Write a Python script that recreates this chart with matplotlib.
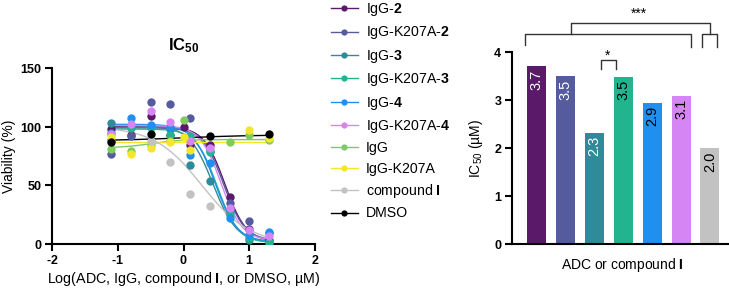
import matplotlib
matplotlib.use("Agg")
import matplotlib.pyplot as plt
from matplotlib.lines import Line2D
import numpy as np

plt.rcParams['font.family'] = ['Liberation Sans', 'DejaVu Sans']
plt.rcParams['mathtext.fontset'] = 'custom'
plt.rcParams['mathtext.rm'] = 'Liberation Sans'
plt.rcParams['mathtext.bf'] = 'Liberation Sans:bold'
plt.rcParams['mathtext.it'] = 'Liberation Sans:italic'

# ---- dose-response data (log µM vs viability %) ----
x_conc = [-1.1, -0.8, -0.5, -0.2, 0.0, 0.1, 0.4, 0.7, 1.0, 1.3]
nan = np.nan
via_igg2 = [98, 93, 109, 93, 100, 84, 84, 40, 13, 3]
via_k207a2 = [77, 92, 121, 119, nan, 107, 79, 35, 20, 9]
via_igg3 = [103, 100, 100, 98, nan, 67, 54, 27, 3, 1]
via_k207a3 = [89, 99, 100, 93, nan, 92, 78, 25, 5, 2]
via_igg4 = [95, 107, 101, 100, nan, 76, 69, 22, 8, 10]
via_k207a4 = [94, 102, 113, 104, nan, 88, 82, 31, 12, 7]
via_igg = [81, 79, 84, 88, 106, nan, nan, 87, 93, 89]
via_k207a = [91, 77, 82, 87, 91, 80, nan, nan, 97, 90]
via_cpd = [nan, nan, 88, 70, nan, 43, 32, nan, nan, nan]
via_dmso = [87, nan, 94, nan, nan, nan, 92, nan, nan, 94]

# fitted curve parameters: top, bottom, logIC50, hill
fit_igg2 = [100, 2, 0.63, 2.7]
fit_k207a2 = [99, 3, 0.61, 2.7]
fit_igg3 = [101, 1, 0.45, 2.4]
fit_k207a3 = [98, 1, 0.51, 2.7]
fit_igg4 = [102, 2, 0.48, 2.6]
fit_k207a4 = [101, 3, 0.57, 2.7]
fit_igg = [82, 89, -0.5, 2.0]
fit_k207a = [87, 87, 0.0, 1.0]
fit_cpd = [100, 0, 0.28, 1.2]
fit_dmso = [88, 93, 0.0, 0.8]

labels = ["IgG-$\\mathbf{2}$", "IgG-K207A-$\\mathbf{2}$", "IgG-$\\mathbf{3}$",
          "IgG-K207A-$\\mathbf{3}$", "IgG-$\\mathbf{4}$", "IgG-K207A-$\\mathbf{4}$",
          "IgG", "IgG-K207A", "compound $\\mathbf{I}$", "DMSO"]
colors = ["#5a1a69", "#555b9d", "#2f8a99", "#22b38f", "#1f8ff0",
          "#d585f4", "#7fcb5c", "#f3e62c", "#c2c2c2", "#000000"]
series = [via_igg2, via_k207a2, via_igg3, via_k207a3, via_igg4,
          via_k207a4, via_igg, via_k207a, via_cpd, via_dmso]
fits = [fit_igg2, fit_k207a2, fit_igg3, fit_k207a3, fit_igg4,
        fit_k207a4, fit_igg, fit_k207a, fit_cpd, fit_dmso]

# ---- IC50 bar data ----
ic50_vals = [3.70, 3.49, 2.32, 3.48, 2.94, 3.08, 1.99]
ic50_text = ["3.7", "3.5", "2.3", "3.5", "2.9", "3.1", "2.0"]
ic50_text_col = ["white", "white", "white", "black", "black", "black", "black"]
bar_colors = colors[:6] + [colors[8]]

left_xticks = [-2, -1, 0, 1, 2]
left_yticks = [0, 50, 100, 150]
right_yticks = [0, 1, 2, 3, 4]


def bold(v):
    # bold digits via mathtext, keep a plain short hyphen for negatives
    if v < 0:
        return "-$\\mathbf{%d}$" % abs(v)
    return "$\\mathbf{%d}$" % v


fig = plt.figure(figsize=(7.29, 2.91), dpi=100)

# ---------------- left panel ----------------
ax = fig.add_axes([52/729, 47/291, 263/729, 176/291])
xs = np.linspace(-1.1, 1.3, 200)
for i in range(len(series)):
    top, bot, c, h = fits[i]
    ys = bot + (top - bot) / (1 + 10 ** ((xs - c) * h))
    ax.plot(xs, ys, color=colors[i], lw=1.0, zorder=2)
for i in range(len(series)):
    ax.plot(x_conc, series[i], "o", color=colors[i], ms=6, mec="none", zorder=3)

ax.set_xlim(-2, 2)
ax.set_ylim(0, 150)
ax.set_xticks(left_xticks, labels=[bold(v) for v in left_xticks], fontsize=9,
              fontweight="bold")
ax.set_yticks(left_yticks, labels=[bold(v) for v in left_yticks], fontsize=9)
for s in ["top", "right"]:
    ax.spines[s].set_visible(False)
for s in ["left", "bottom"]:
    ax.spines[s].set_linewidth(1.5)
ax.tick_params(width=1.5, length=5, pad=2)
ax.set_ylabel("Viability (%)", fontsize=10, labelpad=3)
ax.set_xlabel("Log(ADC, IgG, compound $\\mathbf{I}$, or DMSO, \u00b5M)", fontsize=10.3, labelpad=2)
ax.set_title("$\\mathbf{IC}_{\\mathbf{50}}$", fontsize=12, pad=13)

handles = [Line2D([0], [0], color=colors[i], lw=1.0, marker="o", ms=4.5, mec="none")
           for i in range(len(series))]
fig.legend(handles, labels, loc="upper left", bbox_to_anchor=(318/729, 1.04),
           frameon=False, fontsize=10.2, handlelength=1.9, handletextpad=0.6,
           labelspacing=0.45)

# ---------------- right panel ----------------
bx = fig.add_axes([512/729, 47/291, 217/729, 192/291])
pos = np.arange(len(ic50_vals))
bx.bar(pos, ic50_vals, width=0.66, color=bar_colors)
for i in range(len(ic50_vals)):
    bx.text(pos[i], ic50_vals[i] - 0.06, ic50_text[i], rotation=90, ha="center",
            va="top", fontsize=10.5, color=ic50_text_col[i])
bx.set_xlim(-0.86, 6.66)
bx.set_ylim(0, 4)
bx.set_yticks(right_yticks, labels=[bold(v) for v in right_yticks], fontsize=9)
bx.set_xticks([])
for s in ["top", "right"]:
    bx.spines[s].set_visible(False)
for s in ["left", "bottom"]:
    bx.spines[s].set_linewidth(1.5)
bx.tick_params(width=1.5, length=5, pad=2)
bx.set_ylabel("IC$_{50}$ (\u00b5M)", fontsize=10, labelpad=6)
bx.set_xlabel("ADC or compound $\\mathbf{I}$", fontsize=10, labelpad=5)
bx.xaxis.set_label_coords(0.51, -0.06)

# significance brackets
kw = dict(color="#333333", lw=1.0, clip_on=False)
bx.plot([2.21, 2.21, 2.73, 2.73], [3.64, 3.83, 3.83, 3.64], **kw)
bx.text(2.46, 3.77, "*", ha="center", va="bottom", fontsize=10)
bx.plot([-0.4, -0.4, 5.35, 5.35], [4.15, 4.38, 4.38, 4.1], **kw)
bx.plot([5.73, 5.73, 6.25, 6.25], [4.1, 4.38, 4.38, 4.1], **kw)
bx.plot([1.17, 1.17, 5.99, 5.99], [4.38, 4.6, 4.6, 4.38], **kw)
bx.text(3.53, 4.64, "***", ha="center", va="bottom", fontsize=10)

fig.savefig("out.png", dpi=100)
